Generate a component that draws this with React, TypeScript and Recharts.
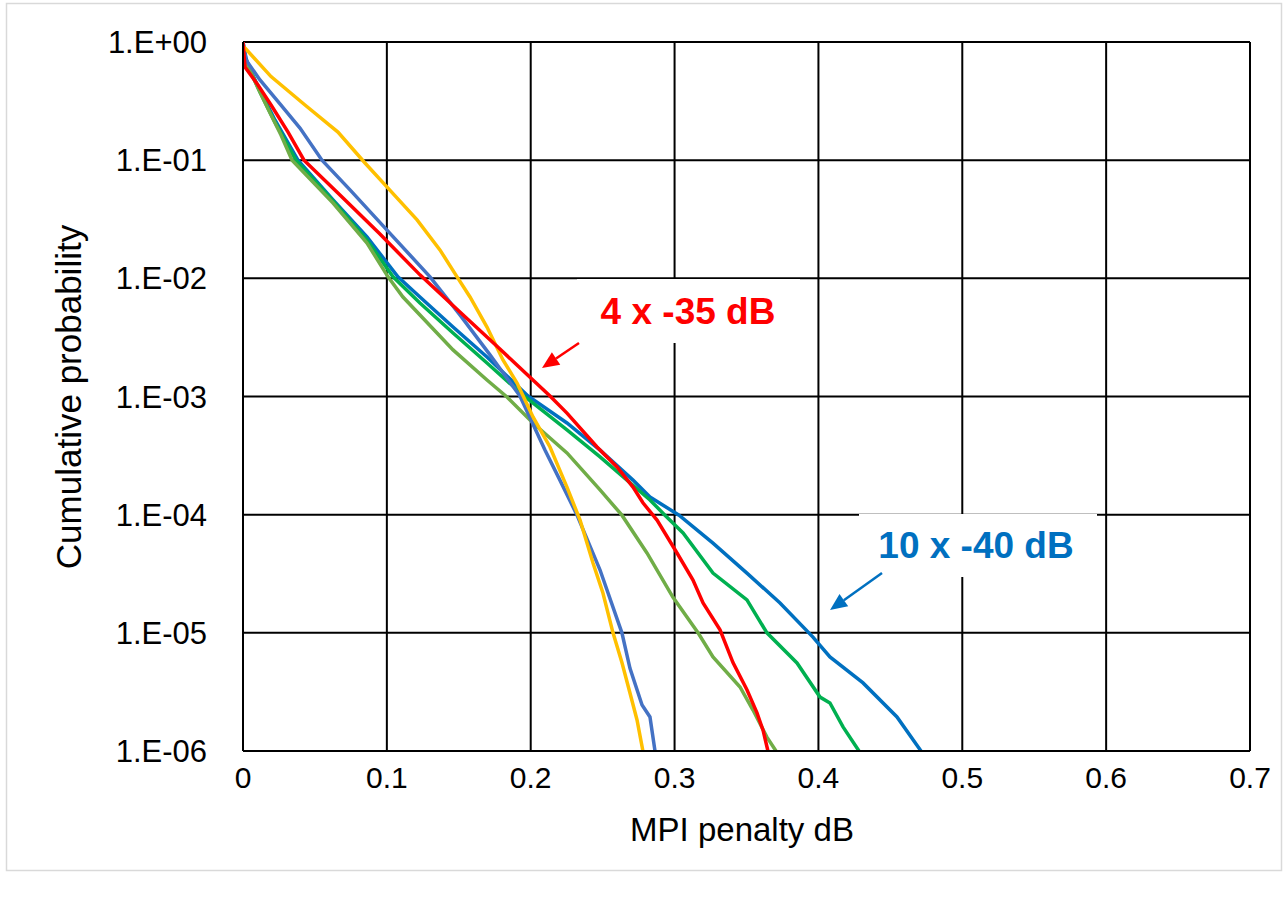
import React from "react";
import { LineChart, Line, XAxis, YAxis, CartesianGrid } from "recharts";

// MPI penalty (dB) vs cumulative probability
const xTicks = [0, 0.1, 0.2, 0.3, 0.4, 0.5, 0.6, 0.7];
const yTicks = [1, 1e-1, 1e-2, 1e-3, 1e-4, 1e-5, 1e-6];

const yellowPts = [
  [0, 0.92], [0.0014, 0.89], [0.0195, 0.51], [0.0431, 0.293], [0.066, 0.173],
  [0.0848, 0.0946], [0.1008, 0.058], [0.121, 0.0312], [0.1369, 0.0174],
  [0.1488, 0.0103], [0.1578, 0.00695], [0.1696, 0.00387], [0.1807, 0.00204],
  [0.1905, 0.0013], [0.2016, 0.000671], [0.2134, 0.000374], [0.2252, 0.000171],
  [0.2343, 9.0e-5], [0.2433, 3.9e-5], [0.2502, 2.17e-5], [0.2572, 1.0e-5],
  [0.2634, 5.6e-6], [0.269, 3.1e-6], [0.2739, 1.83e-6], [0.278, 1.0e-6],
];

const steelPts = [
  [0, 1], [0.0021, 0.705], [0.0118, 0.477], [0.0257, 0.299], [0.0396, 0.187],
  [0.0549, 0.1], [0.0744, 0.056], [0.1001, 0.0256], [0.13, 0.0103],
  [0.1508, 0.0049], [0.1717, 0.00225], [0.1925, 0.00101], [0.2099, 0.000352],
  [0.2203, 0.000196], [0.2322, 9.9e-5], [0.2482, 3.4e-5], [0.2634, 1.0e-5],
  [0.269, 5.0e-6], [0.2774, 2.45e-6], [0.2829, 1.94e-6], [0.2864, 1.0e-6],
];

const redPts = [
  [0, 1], [0.0014, 0.614], [0.0104, 0.433], [0.0195, 0.293], [0.0313, 0.173],
  [0.0424, 0.1], [0.0674, 0.0507], [0.0952, 0.0237], [0.123, 0.0107],
  [0.1508, 0.00519], [0.1786, 0.00252], [0.2134, 0.00101], [0.2252, 0.000724],
  [0.2461, 0.000374], [0.26, 0.000253], [0.2711, 0.000171], [0.278, 0.000126],
  [0.2878, 9.0e-5], [0.3017, 4.74e-5], [0.3128, 2.8e-5], [0.3198, 1.79e-5],
  [0.3316, 1.06e-5], [0.3406, 5.6e-6], [0.3503, 3.3e-6], [0.3573, 2.1e-6],
  [0.3615, 1.5e-6], [0.3649, 1.0e-6],
];

const darkBluePts = [
  [0, 1], [0.0021, 0.73], [0.0049, 0.58], [0.0118, 0.393], [0.0222, 0.219],
  [0.0382, 0.1], [0.0626, 0.046], [0.0862, 0.0224], [0.1077, 0.0103],
  [0.123, 0.00695], [0.146, 0.00387], [0.1696, 0.00216], [0.1981, 0.00101],
  [0.2252, 0.000597], [0.2482, 0.000352], [0.2711, 0.000196], [0.2829, 0.000141],
  [0.3031, 9.9e-5], [0.3267, 5.75e-5], [0.3503, 3.2e-5], [0.3733, 1.79e-5],
  [0.3962, 9.2e-6], [0.408, 6.25e-6], [0.431, 3.77e-6], [0.4546, 1.94e-6],
  [0.4713, 1.0e-6],
];

const greenPts = [
  [0, 1], [0.0007, 0.73], [0.0049, 0.58], [0.0118, 0.378], [0.0222, 0.21],
  [0.0368, 0.1], [0.0626, 0.0451], [0.0862, 0.0211], [0.1043, 0.0103],
  [0.123, 0.00618], [0.146, 0.00345], [0.1696, 0.00192], [0.1953, 0.00101],
  [0.2252, 0.000521], [0.2482, 0.000308], [0.2669, 0.000196], [0.2829, 0.000133],
  [0.2933, 9.9e-5], [0.3059, 7.0e-5], [0.3267, 3.2e-5], [0.3503, 1.9e-5],
  [0.3642, 1.0e-5], [0.3851, 5.56e-6], [0.4011, 2.86e-6], [0.408, 2.55e-6],
  [0.4171, 1.6e-6], [0.4282, 1.0e-6],
];

const olivePts = [
  [0, 1], [0.0007, 0.75], [0.0104, 0.408], [0.0195, 0.241], [0.0264, 0.163],
  [0.0341, 0.1], [0.0626, 0.0434], [0.0862, 0.0199], [0.1008, 0.0103],
  [0.1112, 0.00695], [0.146, 0.00248], [0.1696, 0.00138], [0.1835, 0.00099],
  [0.2016, 0.000597], [0.2252, 0.000333], [0.2482, 0.000162], [0.2634, 9.9e-5],
  [0.2808, 4.74e-5], [0.2989, 2.0e-5], [0.3163, 1.0e-5], [0.3267, 6.25e-6],
  [0.3455, 3.48e-6], [0.3545, 2.22e-6], [0.3642, 1.31e-6], [0.3705, 1.0e-6],
];

const series = [
  { name: "darkBlue", color: "#0070C0", pts: darkBluePts },
  { name: "green", color: "#00B050", pts: greenPts },
  { name: "olive", color: "#70AD47", pts: olivePts },
  { name: "steel", color: "#4472C4", pts: steelPts },
  { name: "yellow", color: "#FFC000", pts: yellowPts },
  { name: "red", color: "#FF0000", pts: redPts },
];

const FONT = "'Liberation Sans', Arial, sans-serif";

const yFmt = (v: number) => {
  const e = Math.round(Math.log10(v));
  return `1.E${e < 0 ? "-" : "+"}${String(Math.abs(e)).padStart(2, "0")}`;
};
const xFmt = (v: number) => String(+v.toFixed(1));

function Arrow({ x1, y1, x2, y2, color }: { x1: number; y1: number; x2: number; y2: number; color: string }) {
  const a = Math.atan2(y2 - y1, x2 - x1);
  const len = 17;
  const w = 7.5;
  const bx = x2 - len * Math.cos(a);
  const by = y2 - len * Math.sin(a);
  const px = -Math.sin(a) * w;
  const py = Math.cos(a) * w;
  return (
    <g>
      <line x1={x1} y1={y1} x2={bx} y2={by} stroke={color} strokeWidth={2.5} />
      <polygon points={`${x2},${y2} ${bx + px},${by + py} ${bx - px},${by - py}`} fill={color} />
    </g>
  );
}

export default function App() {
  return (
    <div style={{ position: "absolute", left: 0, top: 0, width: 1287, height: 900, background: "#fff" }}>
      <LineChart width={1287} height={900} margin={{ top: 42, right: 37, bottom: 0, left: 0 }}>
        <CartesianGrid stroke="#000" strokeWidth={2} />
        <XAxis
          type="number"
          dataKey="x"
          domain={[0, 0.7]}
          ticks={xTicks}
          allowDataOverflow
          height={149}
          tickSize={0}
          tickMargin={16}
          tickFormatter={xFmt}
          tick={{ fontSize: 30, fill: "#000", fontFamily: FONT }}
          axisLine={{ stroke: "#000", strokeWidth: 2 }}
        />
        <YAxis
          type="number"
          scale="log"
          domain={[1e-6, 1]}
          ticks={yTicks}
          allowDataOverflow
          width={243}
          tickSize={0}
          tickMargin={36}
          tickFormatter={yFmt}
          tick={{ fontSize: 31, fill: "#000", fontFamily: FONT }}
          axisLine={{ stroke: "#000", strokeWidth: 2 }}
        />
        {series.map((s) => (
          <Line
            key={s.name}
            data={s.pts.map(([x, y]) => ({ x, y }))}
            dataKey="y"
            type="linear"
            stroke={s.color}
            strokeWidth={3.5}
            dot={false}
            isAnimationActive={false}
          />
        ))}
      </LineChart>
      <svg
        width={1287}
        height={900}
        style={{ position: "absolute", left: 0, top: 0, pointerEvents: "none" }}
      >
        <rect x={6.5} y={3.5} width={1275} height={867} fill="none" stroke="#d9d9d9" strokeWidth={1.5} />
        <text
          x={742}
          y={829}
          textAnchor="middle"
          dominantBaseline="central"
          fontSize={33}
          fontFamily={FONT}
          fill="#000"
        >
          MPI penalty dB
        </text>
        <text
          x={68}
          y={397}
          transform="rotate(-90 68 397)"
          textAnchor="middle"
          dominantBaseline="central"
          fontSize={35}
          fontFamily={FONT}
          fill="#000"
        >
          Cumulative probability
        </text>
        <rect x={577} y={279} width={223} height={64} fill="#fff" />
        <text
          x={688}
          y={311}
          textAnchor="middle"
          dominantBaseline="central"
          fontSize={37}
          fontWeight="bold"
          fontFamily={FONT}
          fill="#FF0000"
        >
          4 x -35 dB
        </text>
        <Arrow x1={579} y1={343} x2={542} y2={368} color="#FF0000" />
        <rect x={859} y={514} width={238} height={63} fill="#fff" />
        <text
          x={976}
          y={545}
          textAnchor="middle"
          dominantBaseline="central"
          fontSize={37}
          fontWeight="bold"
          fontFamily={FONT}
          fill="#0070C0"
        >
          10 x -40 dB
        </text>
        <Arrow x1={882} y1={573} x2={830} y2={610} color="#0070C0" />
      </svg>
    </div>
  );
}
